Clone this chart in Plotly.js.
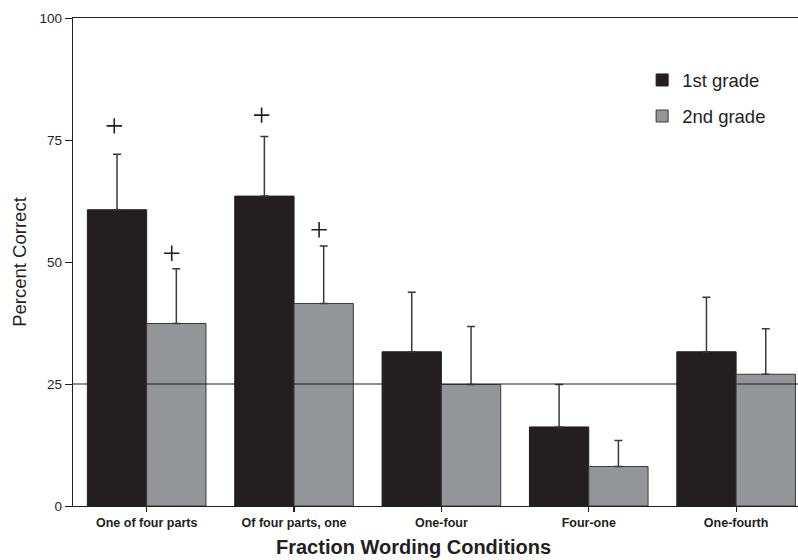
<!DOCTYPE html>
<html>
<head>
<meta charset="utf-8">
<script src="https://cdn.plot.ly/plotly-3.0.1.min.js"></script>
<style>html,body{margin:0;padding:0;background:#fff;}#chart{width:798px;height:560px;}</style>
</head>
<body>
<div id="chart"></div>
<script>
// ---- data ----
const categories = ["One of four parts", "Of four parts, one", "One-four", "Four-one", "One-fourth"];
const grade1 = [60.7, 63.5, 31.6, 16.2, 31.6];
const grade1Err = [11.4, 12.2, 12.2, 8.7, 11.2];
const grade2 = [37.4, 41.5, 24.9, 8.1, 27.0];
const grade2Err = [11.2, 11.8, 11.9, 5.3, 9.3];
const grade1Plus = [77.9, 80.1, null, null, null];
const grade2Plus = [51.8, 56.6, null, null, null];
const chanceLevel = 25;
const yTicks = [0, 25, 50, 75, 100];

// ---- layout helpers ----
const xIdx = categories.map((c, i) => i);
const barW = 0.4;
const zeros = categories.map(() => 0);
const font = "Liberation Sans, Arial, Helvetica, sans-serif";

const traces = [
  {
    type: "bar", name: "1st grade", legendgroup: "g1",
    x: xIdx, y: grade1,
    marker: {color: "#231f20", line: {color: "#231f20", width: 1}},
    error_y: {type: "data", symmetric: false, array: grade1Err, arrayminus: zeros,
              color: "#3a3a3a", thickness: 1.5, width: 4}
  },
  {
    type: "bar", name: "2nd grade", legendgroup: "g2",
    x: xIdx, y: grade2,
    marker: {color: "#939598", line: {color: "#3a3a3a", width: 1}},
    error_y: {type: "data", symmetric: false, array: grade2Err, arrayminus: zeros,
              color: "#3a3a3a", thickness: 1.5, width: 4}
  },
  {
    type: "scatter", mode: "markers", showlegend: false, hoverinfo: "skip",
    x: xIdx.map(i => i - barW / 2 - 0.02), y: grade1Plus,
    marker: {symbol: "cross-thin", size: 11, line: {color: "#231f20", width: 1.6}}
  },
  {
    type: "scatter", mode: "markers", showlegend: false, hoverinfo: "skip",
    x: xIdx.map(i => i + barW / 2 - 0.03), y: grade2Plus,
    marker: {symbol: "cross-thin", size: 11, line: {color: "#231f20", width: 1.6}}
  }
];

const layout = {
  width: 798, height: 560,
  margin: {l: 73, r: 0, t: 18, b: 54},
  paper_bgcolor: "#fff", plot_bgcolor: "#fff",
  font: {family: font, color: "#231f20"},
  barmode: "group", bargap: 0.195, bargroupgap: 0,
  showlegend: true,
  legend: {
    x: 0.785, xanchor: "left", y: 0.911, yanchor: "top",
    font: {size: 18.5, family: font, color: "#231f20"},
    traceorder: "grouped", tracegroupgap: 9,
    bgcolor: "rgba(0,0,0,0)", borderwidth: 0
  },
  xaxis: {
    range: [-0.5, 4.42], tickmode: "array", tickvals: xIdx, ticktext: categories,
    showline: true, mirror: true, linecolor: "#231f20", linewidth: 1.2,
    ticks: "outside", ticklen: 5, tickcolor: "#231f20", tickwidth: 1.2,
    showgrid: false, zeroline: false,
    tickfont: {size: 12.5, family: font, weight: "bold", color: "#231f20"}
  },
  yaxis: {
    range: [0, 100], tickmode: "array", tickvals: yTicks,
    showline: true, linecolor: "#231f20", linewidth: 1.2,
    ticks: "outside", ticklen: 7, tickcolor: "#231f20", tickwidth: 1,
    showgrid: false, zeroline: false,
    tickfont: {size: 13.5, family: font, color: "#231f20"},
    title: {text: "Percent Correct", font: {size: 18.5, family: font, color: "#231f20"}, standoff: 8}
  },
  shapes: [{
    type: "line", xref: "paper", x0: 0, x1: 1, yref: "y", y0: chanceLevel, y1: chanceLevel,
    line: {color: "#231f20", width: 1.2}, layer: "above"
  }],
  annotations: [{
    text: "<b>Fraction Wording Conditions</b>", xref: "paper", yref: "paper",
    x: 0.47, y: 0, xanchor: "center", yanchor: "middle", yshift: -41,
    showarrow: false, font: {size: 20, family: font, color: "#231f20"}
  }]
};

Plotly.newPlot("chart", traces, layout, {displayModeBar: false, staticPlot: true});
</script>
</body>
</html>
